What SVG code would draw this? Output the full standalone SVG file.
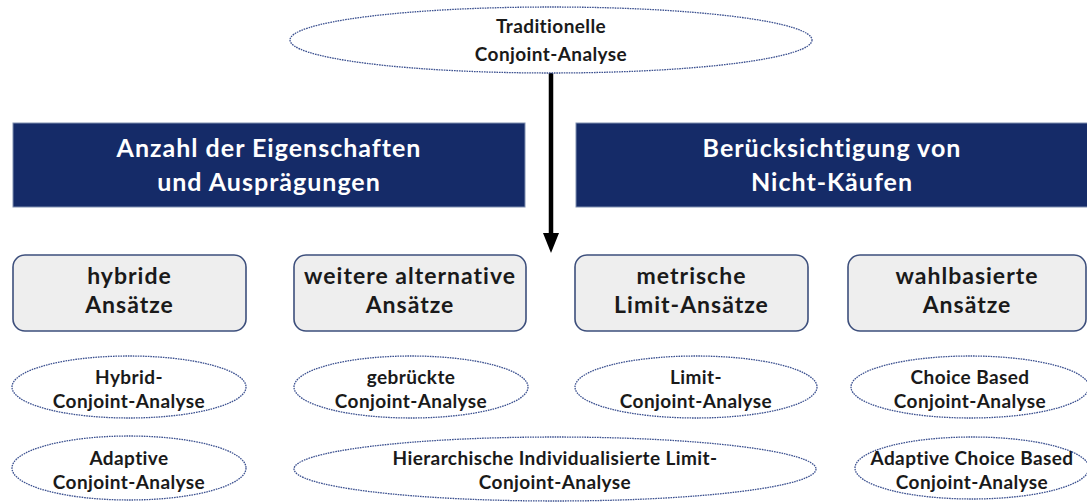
<svg xmlns="http://www.w3.org/2000/svg" width="1087" height="504" viewBox="0 0 1087 504">
<defs>
<style>
.ell{fill:#ffffff;stroke:#3c5190;stroke-width:1.3;stroke-dasharray:1.6 0.9}
.et{font-family:Lato,"Liberation Sans",sans-serif;font-weight:bold;font-size:19px;letter-spacing:0.4px;fill:#1a1a1a;text-anchor:middle}
.box{fill:#eeeeee;stroke:#3d4f7c;stroke-width:1.6}
.bt{font-family:Lato,"Liberation Sans",sans-serif;font-weight:bold;font-size:23px;letter-spacing:1px;fill:#1a1a1a;text-anchor:middle}
.dark{fill:#152b68;stroke:#8090b0;stroke-width:1}
.dt{font-family:Lato,"Liberation Sans",sans-serif;font-weight:bold;font-size:25px;letter-spacing:1px;fill:#ffffff;text-anchor:middle}
</style>
</defs>
<rect width="1087" height="504" fill="#ffffff"/>

<g id="connectors">
<line x1="551" y1="73" x2="551" y2="237" stroke="#000000" stroke-width="4.5"/>
<polygon points="543,233 559,233 551,253" fill="#000000"/>
</g>

<g id="top">
<ellipse class="ell" cx="551" cy="40" rx="261" ry="33"/>
<text class="et" x="551" y="33">Traditionelle</text>
<text class="et" x="551" y="61">Conjoint-Analyse</text>
</g>

<g id="cat-left">
<rect class="dark" x="13" y="123" width="512" height="84"/>
<text class="dt" x="269" y="157">Anzahl der Eigenschaften</text>
<text class="dt" x="269" y="191">und Ausprägungen</text>
</g>
<g id="cat-right">
<rect class="dark" x="576" y="123" width="516" height="84"/>
<text class="dt" x="832" y="157">Berücksichtigung von</text>
<text class="dt" x="832" y="191">Nicht-Käufen</text>
</g>

<g id="box-hybrid">
<rect class="box" x="13" y="255" width="233" height="76" rx="12"/>
<text class="bt" x="129.5" y="284">hybride</text>
<text class="bt" x="129.5" y="313">Ansätze</text>
</g>
<g id="box-weitere">
<rect class="box" x="294" y="255" width="232" height="76" rx="12"/>
<text class="bt" x="410" y="284">weitere alternative</text>
<text class="bt" x="410" y="313">Ansätze</text>
</g>
<g id="box-metrisch">
<rect class="box" x="575" y="255" width="233" height="76" rx="12"/>
<text class="bt" x="691.5" y="284">metrische</text>
<text class="bt" x="691.5" y="313">Limit-Ansätze</text>
</g>
<g id="box-wahl">
<rect class="box" x="848" y="255" width="238" height="76" rx="12"/>
<text class="bt" x="967" y="284">wahlbasierte</text>
<text class="bt" x="967" y="313">Ansätze</text>
</g>

<g id="e-hybrid">
<ellipse class="ell" cx="129" cy="387" rx="117" ry="31"/>
<text class="et" x="129" y="384">Hybrid-</text>
<text class="et" x="129" y="408">Conjoint-Analyse</text>
</g>
<g id="e-gebrueckt">
<ellipse class="ell" cx="411" cy="387" rx="117" ry="31"/>
<text class="et" x="411" y="384">gebrückte</text>
<text class="et" x="411" y="408">Conjoint-Analyse</text>
</g>
<g id="e-limit">
<ellipse class="ell" cx="696" cy="387" rx="121" ry="31"/>
<text class="et" x="696" y="384">Limit-</text>
<text class="et" x="696" y="408">Conjoint-Analyse</text>
</g>
<g id="e-cbc">
<ellipse class="ell" cx="970" cy="387" rx="119" ry="31"/>
<text class="et" x="970" y="384">Choice Based</text>
<text class="et" x="970" y="408">Conjoint-Analyse</text>
</g>
<g id="e-aca">
<ellipse class="ell" cx="129" cy="468" rx="117" ry="32"/>
<text class="et" x="129" y="465">Adaptive</text>
<text class="et" x="129" y="489">Conjoint-Analyse</text>
</g>
<g id="e-hilca">
<ellipse class="ell" cx="555" cy="469" rx="261" ry="32"/>
<text class="et" x="555" y="465">Hierarchische Individualisierte Limit-</text>
<text class="et" x="555" y="489">Conjoint-Analyse</text>
</g>
<g id="e-acbc">
<ellipse class="ell" cx="972" cy="468" rx="117" ry="31"/>
<text class="et" x="972" y="465">Adaptive Choice Based</text>
<text class="et" x="972" y="489">Conjoint-Analyse</text>
</g>
</svg>
